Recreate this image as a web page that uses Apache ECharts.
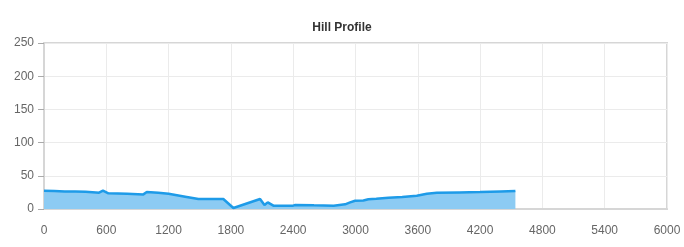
<!DOCTYPE html>
<html><head><meta charset="utf-8">
<script src="https://cdn.jsdelivr.net/npm/echarts@6/dist/echarts.min.js"></script>
<style>html,body{margin:0;padding:0;background:#fff}#c{width:684px;height:247px}</style>
</head><body><div id="c"></div>
<script>
const distances = [0, 100, 200, 300, 400, 500, 530, 568, 620, 800, 957, 990, 1100, 1200, 1360, 1487, 1600, 1727, 1824, 2081, 2123, 2155, 2209, 2300, 2400, 2420, 2600, 2790, 2900, 2948, 2996, 3076, 3124, 3200, 3317, 3450, 3590, 3687, 3783, 4000, 4200, 4400, 4540];
const elevations = [27.5, 27, 26.5, 26.5, 26, 25, 24.5, 27.5, 23.6, 23, 22, 25.6, 24.5, 23, 18.6, 15, 15, 15, 1.5, 15, 6, 10, 5, 5, 5, 6, 5.5, 5, 7, 10, 12.5, 12.8, 14.6, 15.5, 17, 18, 20, 23, 24.5, 25, 25.5, 26.5, 27];
const xTicks = [0, 6000, 600];
const yTicks = [0, 250, 50];
const titleText = 'Hill Profile';

const chart = echarts.init(document.getElementById('c'));
chart.setOption({
  animation: false,
  title: { text: titleText, left: 'center', top: 17, textStyle: { fontFamily: 'Liberation Sans, Arial', fontSize: 12, fontWeight: 'bold', color: '#333' } },
  grid: { left: 44, right: 17, top: 43, bottom: 38, show: true, borderColor: '#d6d6d6', borderWidth: 2 },
  xAxis: {
    type: 'value', min: xTicks[0], max: xTicks[1], interval: xTicks[2],
    axisLine: { show: true, lineStyle: { color: '#d6d6d6', width: 2 } },
    axisTick: { show: false },
    axisLabel: { color: '#666', fontSize: 12, fontFamily: 'Liberation Sans, Arial', margin: 16, formatter: v => String(v) },
    splitLine: { show: true, lineStyle: { color: '#ebebeb' } }
  },
  yAxis: {
    type: 'value', min: yTicks[0], max: yTicks[1], interval: yTicks[2],
    axisLine: { show: true, lineStyle: { color: '#d6d6d6', width: 2 } },
    axisTick: { show: true, length: 6, lineStyle: { color: '#aaa' } },
    axisLabel: { color: '#666', fontSize: 12, fontFamily: 'Liberation Sans, Arial', margin: 10, formatter: v => String(v) },
    splitLine: { show: true, lineStyle: { color: '#ebebeb' } }
  },
  series: [{
    type: 'line',
    data: distances.map((d, i) => [d, elevations[i]]),
    showSymbol: false,
    lineStyle: { color: '#1e9be8', width: 2.5 },
    itemStyle: { color: '#1e9be8' },
    areaStyle: { color: '#8ccbf3', opacity: 1 }
  }]
});
</script></body></html>
